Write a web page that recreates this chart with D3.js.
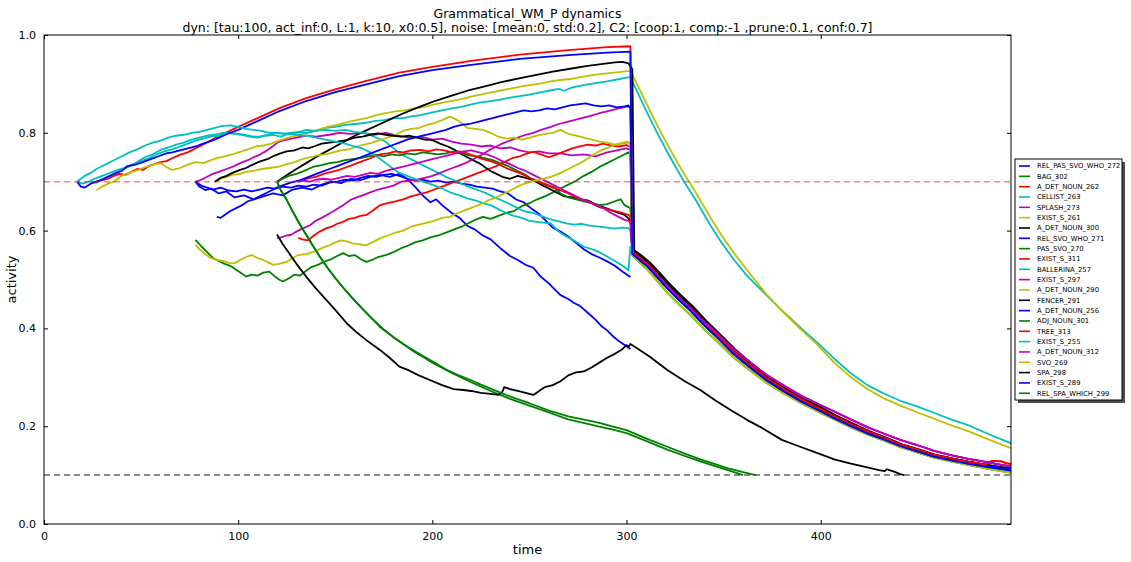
<!DOCTYPE html>
<html><head><meta charset="utf-8">
<script src="https://cdn.jsdelivr.net/npm/d3@7"></script>
<style>
html,body{margin:0;padding:0;background:#fff;}
svg{display:block;font-family:"DejaVu Sans",sans-serif;}
</style></head><body>
<svg id="chart" width="1131" height="562"></svg>
<script>
// ---------------- data ----------------
const titleLines = ["Grammatical_WM_P dynamics",
  "dyn: [tau:100, act_inf:0, L:1, k:10, x0:0.5], noise: [mean:0, std:0.2], C2: [coop:1, comp:-1 ,prune:0.1, conf:0.7]"];
const xTicks = [0, 100, 200, 300, 400];
const yTicks = [0.0, 0.2, 0.4, 0.6, 0.8, 1.0];
const timeMax = 498;
const confThreshold = 0.7;
const pruneThreshold = 0.1;

// shared decay tails after the reset at t≈302
const tailHi = [[303,0.560],[307,0.548],[311,0.535],[316,0.514],[321,0.492],[327,0.468],[333,0.446],[340,0.416],[347,0.389],[355,0.357],[363,0.330],[372,0.302],[381,0.279],[390,0.257],[399,0.239],[407,0.222],[416,0.205],[424,0.190],[433,0.176],[441,0.163],[450,0.152],[458,0.142],[467,0.134],[476,0.127],[485,0.121],[493,0.116],[498,0.113]];
const tailBase = [[303,0.556],[307,0.543],[311,0.530],[316,0.508],[321,0.486],[327,0.462],[333,0.440],[340,0.410],[347,0.384],[355,0.352],[363,0.326],[372,0.298],[381,0.275],[390,0.254],[399,0.236],[407,0.220],[416,0.203],[424,0.189],[433,0.175],[441,0.162],[450,0.151],[458,0.141],[467,0.133],[476,0.126],[485,0.120],[493,0.115],[498,0.112]];
const tailMid = [[303,0.552],[307,0.539],[311,0.526],[316,0.504],[321,0.482],[327,0.458],[333,0.436],[340,0.406],[347,0.380],[355,0.348],[363,0.322],[372,0.294],[381,0.271],[390,0.250],[399,0.232],[407,0.216],[416,0.199],[424,0.185],[433,0.172],[441,0.159],[450,0.148],[458,0.138],[467,0.130],[476,0.123],[485,0.117],[493,0.112],[498,0.109]];
const tailLow = [[303,0.550],[307,0.534],[311,0.519],[316,0.496],[321,0.473],[327,0.449],[333,0.427],[340,0.398],[347,0.372],[355,0.341],[363,0.316],[372,0.289],[381,0.267],[390,0.247],[399,0.229],[407,0.214],[416,0.197],[424,0.183],[433,0.170],[441,0.157],[450,0.146],[458,0.136],[467,0.128],[476,0.121],[485,0.114],[493,0.108],[498,0.105]];
const tailMag = [[303,0.553],[307,0.540],[311,0.528],[316,0.507],[321,0.486],[327,0.463],[333,0.442],[340,0.414],[347,0.389],[355,0.358],[363,0.333],[372,0.305],[381,0.283],[390,0.262],[399,0.245],[407,0.230],[416,0.213],[424,0.198],[433,0.184],[441,0.172],[450,0.161],[458,0.150],[467,0.141],[476,0.133],[485,0.127],[493,0.121],[498,0.118]];
const tailRed = [[303,0.557],[307,0.544],[311,0.531],[316,0.509],[321,0.487],[327,0.463],[333,0.441],[340,0.411],[347,0.385],[355,0.353],[363,0.327],[372,0.299],[381,0.276],[390,0.255],[399,0.237],[407,0.221],[416,0.204],[424,0.190],[433,0.176],[441,0.163],[450,0.152],[458,0.142],[467,0.134],[476,0.127],[481,0.124],[485,0.121],[488,0.129],[493,0.128],[496,0.124],[498,0.123]];

const REL_PAS_SVO_WHO_272 = [[78,0.700],[80,0.690],[83,0.683],[86,0.686],[90,0.676],[94,0.680],[98,0.668],[103,0.672],[108,0.664],[113,0.670],[118,0.676],[123,0.672],[128,0.684],[133,0.688],[138,0.684],[143,0.694],[148,0.700],[153,0.697],[158,0.706],[163,0.703],[168,0.710],[173,0.714],[178,0.710],[183,0.716],[187,0.706],[191,0.690],[195,0.672],[199,0.658],[202,0.664],[205,0.652],[210,0.636],[214,0.626],[218,0.610],[222,0.602],[226,0.590],[230,0.582],[235,0.564],[240,0.548],[244,0.540],[248,0.530],[252,0.524],[256,0.505],[260,0.492],[263,0.480],[266,0.468],[270,0.460],[273,0.452],[276,0.446],[280,0.432],[284,0.418],[287,0.405],[290,0.396],[293,0.384],[296,0.374],[299,0.366],[302,0.358]];
const BAG_302 = [[120,0.700],[122,0.682],[125,0.663],[128,0.640],[131,0.618],[134,0.598],[138,0.572],[142,0.547],[146,0.524],[150,0.503],[155,0.479],[160,0.457],[165,0.436],[170,0.416],[175,0.398],[180,0.382],[185,0.368],[190,0.354],[195,0.342],[200,0.330],[210,0.309],[220,0.290],[230,0.272],[240,0.256],[250,0.242],[260,0.228],[270,0.214],[280,0.205],[286,0.199],[293,0.193],[300,0.186],[310,0.170],[321,0.152],[330,0.139],[338,0.128],[346,0.118],[353,0.109],[360,0.100]];
const A_DET_NOUN_262 = [[27,0.700],[30,0.703],[33,0.706],[36,0.712],[39,0.716],[42,0.714],[45,0.720],[48,0.726],[51,0.724],[54,0.732],[57,0.736],[60,0.740],[63,0.742],[66,0.748],[70,0.755],[74,0.760],[77,0.766],[82,0.776],[88,0.789],[94,0.801],[100,0.812],[110,0.830],[121,0.850],[135,0.871],[150,0.889],[165,0.905],[183,0.923],[200,0.935],[220,0.947],[245,0.960],[270,0.969],[290,0.975],[302,0.977]].concat(tailRed);
const CELLIST_263 = [[24,0.700],[27,0.698],[30,0.706],[34,0.712],[38,0.720],[42,0.728],[46,0.735],[50,0.742],[54,0.748],[58,0.756],[62,0.762],[66,0.766],[70,0.772],[74,0.778],[78,0.784],[82,0.788],[86,0.792],[90,0.794],[94,0.800],[98,0.798],[102,0.796],[106,0.792],[110,0.790],[114,0.794],[118,0.796],[122,0.792],[126,0.798],[130,0.800],[135,0.806],[140,0.804],[145,0.810],[150,0.812],[155,0.816],[160,0.818],[165,0.820],[170,0.824],[175,0.826],[180,0.830],[185,0.830],[190,0.834],[194,0.836],[200,0.842],[205,0.846],[210,0.850],[215,0.853],[220,0.858],[225,0.862],[230,0.865],[235,0.868],[240,0.872],[245,0.875],[250,0.878],[255,0.882],[260,0.886],[265,0.890],[268,0.886],[272,0.893],[276,0.896],[280,0.899],[285,0.902],[290,0.905],[295,0.909],[300,0.913],[302,0.914],[306,0.880],[310,0.846],[315,0.806],[320,0.768],[325,0.732],[330,0.698],[336,0.660],[343,0.612],[349,0.575],[355,0.542],[362,0.508],[372,0.468],[380,0.437],[390,0.400],[398,0.372],[407,0.338],[415,0.310],[424,0.284],[432,0.268],[441,0.252],[450,0.240],[458,0.228],[467,0.214],[476,0.202],[487,0.183],[498,0.165]];
const SPLASH_273 = [[78,0.700],[81,0.704],[84,0.710],[87,0.716],[90,0.720],[94,0.726],[98,0.732],[101,0.738],[105,0.744],[108,0.750],[111,0.755],[114,0.762],[117,0.770],[121,0.782],[125,0.786],[130,0.790],[135,0.794],[140,0.792],[147,0.796],[152,0.800],[158,0.798],[164,0.800],[170,0.796],[176,0.800],[182,0.794],[188,0.790],[194,0.792],[200,0.786],[205,0.788],[210,0.782],[215,0.778],[220,0.776],[225,0.772],[230,0.774],[235,0.768],[240,0.770],[245,0.764],[250,0.760],[255,0.762],[260,0.758],[266,0.758],[272,0.754],[278,0.756],[284,0.752],[290,0.760],[295,0.764],[300,0.768],[302,0.765]].concat(tailMag);
const EXIST_S_261 = [[27,0.683],[30,0.690],[33,0.696],[36,0.700],[40,0.712],[43,0.717],[47,0.722],[51,0.728],[55,0.734],[60,0.738],[63,0.730],[66,0.724],[70,0.728],[74,0.735],[78,0.740],[82,0.738],[86,0.744],[89,0.748],[93,0.752],[97,0.756],[101,0.761],[105,0.766],[109,0.772],[113,0.774],[117,0.778],[121,0.784],[126,0.790],[131,0.795],[136,0.800],[141,0.806],[146,0.812],[151,0.816],[156,0.822],[161,0.826],[166,0.830],[171,0.836],[176,0.840],[181,0.844],[186,0.846],[191,0.850],[196,0.853],[201,0.858],[206,0.862],[211,0.866],[216,0.870],[221,0.875],[226,0.879],[231,0.883],[236,0.887],[241,0.891],[246,0.895],[251,0.898],[256,0.901],[261,0.905],[266,0.908],[271,0.910],[276,0.914],[281,0.917],[286,0.920],[291,0.922],[296,0.924],[300,0.926],[302,0.926],[306,0.895],[310,0.862],[315,0.822],[320,0.784],[325,0.748],[330,0.714],[336,0.676],[343,0.628],[349,0.590],[355,0.556],[362,0.520],[372,0.470],[380,0.436],[390,0.397],[398,0.368],[407,0.330],[415,0.302],[424,0.276],[432,0.258],[441,0.242],[450,0.228],[458,0.216],[467,0.202],[476,0.190],[487,0.172],[498,0.155]];
const A_DET_NOUN_300 = [[120,0.700],[123,0.708],[126,0.716],[130,0.726],[135,0.738],[140,0.750],[145,0.761],[150,0.772],[155,0.783],[160,0.794],[166,0.805],[172,0.816],[178,0.827],[184,0.838],[190,0.848],[196,0.857],[202,0.866],[210,0.876],[218,0.886],[226,0.894],[235,0.903],[244,0.911],[253,0.918],[262,0.925],[271,0.931],[280,0.937],[288,0.941],[294,0.944],[298,0.945],[301,0.942],[302,0.936],[303,0.930]].concat(tailHi.map(d => [d[0] + 1, d[1]]));
const REL_SVO_WHO_271 = [[78,0.700],[81,0.692],[84,0.688],[87,0.684],[91,0.688],[95,0.682],[99,0.680],[103,0.684],[107,0.680],[111,0.684],[115,0.688],[119,0.686],[123,0.690],[127,0.688],[131,0.692],[135,0.690],[139,0.694],[143,0.692],[147,0.698],[151,0.700],[155,0.704],[159,0.702],[163,0.708],[167,0.712],[171,0.710],[175,0.714],[179,0.716],[183,0.712],[187,0.706],[191,0.702],[195,0.704],[199,0.700],[203,0.702],[207,0.698],[211,0.700],[215,0.696],[219,0.694],[223,0.690],[227,0.688],[231,0.686],[235,0.680],[239,0.676],[243,0.664],[247,0.658],[251,0.645],[255,0.634],[259,0.618],[262,0.606],[266,0.598],[270,0.588],[274,0.575],[278,0.562],[282,0.552],[286,0.545],[290,0.537],[294,0.528],[298,0.516],[302,0.505]];
const PAS_SVO_270 = [[78,0.581],[81,0.568],[84,0.556],[87,0.544],[90,0.538],[93,0.532],[96,0.528],[99,0.520],[102,0.512],[104,0.506],[107,0.510],[110,0.508],[113,0.514],[116,0.516],[119,0.506],[121,0.500],[123,0.496],[126,0.502],[129,0.510],[132,0.508],[135,0.518],[138,0.526],[141,0.530],[144,0.536],[147,0.540],[150,0.546],[154,0.554],[157,0.548],[160,0.550],[163,0.542],[166,0.536],[169,0.540],[172,0.546],[176,0.550],[180,0.556],[184,0.564],[188,0.570],[191,0.576],[195,0.580],[199,0.586],[203,0.590],[207,0.596],[211,0.602],[215,0.608],[219,0.616],[222,0.622],[226,0.628],[230,0.624],[234,0.630],[238,0.636],[242,0.640],[246,0.650],[250,0.656],[254,0.664],[258,0.670],[262,0.678],[266,0.686],[270,0.694],[274,0.702],[278,0.712],[282,0.720],[286,0.730],[290,0.738],[294,0.746],[298,0.754],[301,0.760],[302,0.755]].concat(tailMid);
const EXIST_S_311 = [[131,0.585],[133,0.582],[136,0.580],[139,0.590],[142,0.598],[145,0.604],[148,0.608],[151,0.614],[154,0.618],[157,0.624],[160,0.626],[163,0.630],[166,0.632],[169,0.640],[173,0.652],[177,0.656],[181,0.660],[185,0.664],[189,0.670],[193,0.674],[197,0.678],[201,0.684],[205,0.690],[209,0.696],[213,0.702],[217,0.708],[221,0.714],[225,0.720],[229,0.726],[233,0.732],[237,0.740],[241,0.748],[245,0.752],[249,0.758],[252,0.761],[256,0.756],[260,0.750],[264,0.756],[268,0.762],[272,0.768],[276,0.772],[280,0.776],[284,0.774],[288,0.778],[292,0.774],[296,0.772],[300,0.775],[302,0.770]].concat(tailBase);
const BALLERINA_257 = [[17,0.700],[20,0.696],[23,0.700],[26,0.706],[30,0.712],[34,0.718],[38,0.724],[43,0.730],[47,0.738],[52,0.750],[56,0.756],[60,0.765],[64,0.770],[68,0.776],[72,0.780],[76,0.786],[80,0.790],[84,0.794],[88,0.796],[92,0.800],[96,0.800],[100,0.798],[104,0.795],[108,0.792],[111,0.792],[115,0.796],[119,0.800],[123,0.798],[127,0.800],[131,0.802],[135,0.800],[140,0.804],[145,0.806],[150,0.804],[155,0.806],[160,0.802],[165,0.800],[170,0.792],[175,0.784],[179,0.772],[183,0.758],[187,0.750],[191,0.742],[195,0.734],[200,0.724],[204,0.716],[208,0.708],[212,0.702],[216,0.694],[220,0.688],[224,0.682],[228,0.676],[232,0.668],[235,0.663],[239,0.656],[243,0.648],[247,0.640],[252,0.636],[256,0.630],[260,0.624],[264,0.620],[269,0.615],[273,0.612],[277,0.614],[281,0.610],[286,0.608],[290,0.606],[294,0.604],[298,0.606],[301,0.605],[302,0.600]].concat(tailLow);
const EXIST_S_297 = [[120,0.584],[122,0.586],[125,0.590],[127,0.591],[130,0.598],[133,0.604],[137,0.611],[140,0.620],[143,0.626],[147,0.635],[150,0.642],[154,0.652],[158,0.663],[161,0.668],[164,0.672],[168,0.678],[172,0.684],[176,0.688],[180,0.692],[184,0.700],[188,0.702],[192,0.704],[196,0.708],[200,0.712],[204,0.718],[209,0.726],[213,0.732],[217,0.738],[221,0.746],[225,0.754],[229,0.764],[233,0.772],[236,0.778],[240,0.784],[244,0.790],[248,0.796],[252,0.800],[256,0.806],[261,0.812],[265,0.818],[269,0.822],[273,0.826],[277,0.830],[281,0.834],[286,0.840],[290,0.844],[294,0.848],[298,0.852],[301,0.854],[302,0.850]].concat(tailMag);
const A_DET_NOUN_290 = [[88,0.700],[91,0.706],[94,0.710],[97,0.714],[101,0.716],[104,0.720],[108,0.722],[112,0.726],[116,0.728],[121,0.731],[125,0.736],[129,0.740],[133,0.746],[137,0.750],[141,0.754],[145,0.756],[149,0.760],[153,0.764],[157,0.766],[161,0.772],[165,0.776],[169,0.780],[173,0.785],[177,0.790],[181,0.796],[185,0.804],[189,0.808],[193,0.810],[197,0.816],[201,0.820],[205,0.826],[209,0.833],[212,0.828],[215,0.820],[218,0.810],[222,0.808],[226,0.806],[230,0.800],[234,0.792],[238,0.788],[242,0.790],[246,0.786],[250,0.790],[254,0.794],[258,0.798],[262,0.800],[266,0.806],[270,0.798],[274,0.794],[278,0.790],[282,0.786],[286,0.782],[290,0.780],[294,0.776],[298,0.778],[301,0.780],[302,0.775]].concat(tailLow);
const FENCER_291 = [[88,0.700],[91,0.708],[94,0.712],[97,0.718],[101,0.724],[104,0.728],[107,0.734],[111,0.741],[115,0.746],[118,0.752],[121,0.757],[125,0.762],[129,0.764],[133,0.770],[136,0.768],[139,0.772],[143,0.778],[147,0.780],[151,0.782],[156,0.785],[160,0.790],[164,0.792],[168,0.796],[172,0.799],[176,0.796],[180,0.794],[184,0.792],[188,0.794],[192,0.790],[196,0.786],[200,0.785],[204,0.778],[208,0.772],[212,0.764],[215,0.756],[218,0.750],[221,0.744],[224,0.738],[227,0.730],[230,0.722],[233,0.716],[236,0.710],[240,0.706],[244,0.712],[248,0.708],[252,0.703],[256,0.694],[260,0.686],[264,0.678],[268,0.670],[272,0.668],[276,0.664],[280,0.662],[284,0.654],[288,0.648],[292,0.642],[296,0.636],[299,0.632],[301,0.625],[302,0.620]].concat(tailHi);
const A_DET_NOUN_256 = [[17,0.700],[19,0.690],[21,0.688],[24,0.696],[27,0.700],[30,0.704],[33,0.710],[36,0.716],[40,0.722],[43,0.732],[47,0.735],[51,0.740],[55,0.746],[59,0.752],[63,0.758],[66,0.760],[70,0.764],[74,0.768],[78,0.772],[82,0.778],[88,0.786],[94,0.797],[100,0.806],[110,0.824],[121,0.844],[135,0.865],[150,0.883],[165,0.898],[183,0.916],[200,0.928],[220,0.939],[245,0.951],[270,0.959],[290,0.964],[302,0.966]].concat(tailBase);
const ADJ_NOUN_301 = [[120,0.700],[123,0.706],[126,0.712],[130,0.716],[134,0.722],[139,0.731],[143,0.734],[147,0.738],[151,0.740],[155,0.744],[159,0.746],[163,0.748],[167,0.752],[171,0.755],[175,0.752],[179,0.756],[183,0.754],[187,0.758],[191,0.756],[195,0.760],[199,0.758],[203,0.756],[207,0.758],[211,0.762],[215,0.758],[219,0.754],[223,0.752],[227,0.748],[231,0.744],[235,0.738],[239,0.732],[243,0.724],[247,0.716],[251,0.706],[255,0.700],[259,0.694],[263,0.688],[266,0.676],[270,0.668],[274,0.664],[278,0.660],[282,0.656],[286,0.652],[290,0.654],[294,0.660],[297,0.664],[299,0.652],[301,0.648],[302,0.645]].concat(tailMid);
const TREE_313 = [[131,0.700],[134,0.704],[137,0.708],[140,0.710],[144,0.716],[148,0.720],[152,0.724],[156,0.730],[160,0.736],[164,0.742],[168,0.748],[173,0.756],[177,0.758],[181,0.762],[185,0.760],[189,0.764],[194,0.765],[198,0.762],[202,0.766],[206,0.764],[210,0.760],[214,0.762],[218,0.758],[222,0.752],[226,0.746],[230,0.742],[234,0.736],[238,0.728],[242,0.722],[246,0.716],[250,0.708],[254,0.702],[258,0.694],[262,0.688],[266,0.682],[270,0.676],[274,0.668],[278,0.662],[282,0.656],[286,0.648],[290,0.644],[294,0.640],[298,0.636],[301,0.632],[302,0.628]].concat(tailRed);
const EXIST_S_255 = [[17,0.700],[19,0.706],[21,0.712],[24,0.718],[27,0.726],[30,0.732],[33,0.738],[36,0.744],[40,0.752],[44,0.760],[48,0.766],[52,0.774],[56,0.780],[60,0.784],[64,0.790],[68,0.794],[72,0.796],[76,0.800],[80,0.802],[84,0.806],[88,0.810],[92,0.814],[96,0.815],[100,0.812],[104,0.808],[108,0.806],[112,0.804],[116,0.800],[121,0.800],[125,0.798],[130,0.796],[135,0.794],[140,0.790],[145,0.786],[150,0.782],[155,0.778],[160,0.772],[164,0.768],[168,0.760],[172,0.750],[176,0.738],[180,0.726],[183,0.718],[187,0.712],[191,0.706],[195,0.700],[200,0.694],[205,0.686],[210,0.677],[214,0.672],[218,0.666],[222,0.662],[226,0.656],[230,0.652],[234,0.644],[238,0.636],[242,0.630],[246,0.626],[250,0.620],[254,0.618],[258,0.616],[261,0.615],[265,0.598],[269,0.588],[273,0.580],[278,0.567],[282,0.562],[286,0.556],[290,0.547],[294,0.538],[298,0.528],[301,0.519],[302,0.567]].concat(tailLow);
const A_DET_NOUN_312 = [[131,0.700],[134,0.702],[137,0.700],[140,0.704],[144,0.706],[148,0.704],[152,0.708],[156,0.712],[160,0.710],[164,0.714],[168,0.718],[172,0.716],[176,0.722],[180,0.726],[184,0.730],[188,0.734],[192,0.738],[196,0.742],[200,0.746],[204,0.750],[208,0.754],[212,0.758],[216,0.762],[220,0.764],[224,0.760],[228,0.756],[232,0.750],[236,0.742],[240,0.736],[244,0.728],[248,0.722],[252,0.714],[256,0.706],[260,0.698],[264,0.690],[268,0.682],[272,0.674],[276,0.666],[280,0.660],[284,0.652],[288,0.646],[292,0.636],[296,0.628],[299,0.622],[301,0.620],[302,0.616]].concat(tailMag);
const SVO_269 = [[78,0.571],[80,0.562],[83,0.552],[86,0.544],[89,0.540],[92,0.538],[95,0.534],[98,0.533],[101,0.540],[104,0.546],[107,0.550],[110,0.544],[113,0.540],[116,0.534],[118,0.530],[121,0.532],[125,0.536],[128,0.544],[131,0.550],[135,0.552],[139,0.557],[143,0.564],[147,0.570],[150,0.576],[153,0.580],[156,0.578],[159,0.574],[163,0.572],[166,0.570],[169,0.576],[173,0.584],[177,0.590],[181,0.596],[185,0.600],[189,0.608],[193,0.612],[197,0.616],[201,0.620],[205,0.626],[209,0.628],[213,0.636],[217,0.642],[221,0.648],[225,0.654],[229,0.662],[233,0.668],[237,0.676],[241,0.684],[245,0.692],[249,0.698],[253,0.702],[257,0.706],[261,0.710],[265,0.716],[269,0.724],[273,0.732],[277,0.740],[281,0.750],[285,0.760],[288,0.766],[292,0.772],[296,0.778],[300,0.782],[302,0.780]].concat(tailLow);
const SPA_298 = [[120,0.592],[123,0.572],[126,0.555],[130,0.532],[135,0.506],[140,0.482],[145,0.460],[150,0.438],[156,0.410],[161,0.392],[166,0.376],[173,0.356],[178,0.340],[183,0.322],[188,0.314],[193,0.304],[199,0.294],[205,0.284],[211,0.276],[216,0.274],[220,0.272],[225,0.268],[230,0.266],[234,0.264],[236,0.270],[237,0.280],[240,0.276],[244,0.272],[248,0.268],[252,0.264],[255,0.272],[258,0.280],[262,0.284],[266,0.292],[270,0.304],[274,0.310],[278,0.312],[282,0.320],[286,0.330],[290,0.340],[294,0.348],[298,0.358],[300,0.366],[301,0.362],[302,0.368],[306,0.358],[312,0.342],[321,0.315],[330,0.292],[338,0.274],[346,0.252],[354,0.232],[362,0.213],[370,0.196],[380,0.172],[388,0.160],[397,0.147],[407,0.132],[415,0.124],[424,0.116],[430,0.110],[433,0.108],[434,0.112],[437,0.108],[441,0.102],[443,0.100]];
const EXIST_S_289 = [[89,0.628],[91,0.626],[93,0.632],[96,0.640],[99,0.646],[102,0.652],[105,0.660],[108,0.664],[111,0.670],[114,0.676],[117,0.682],[121,0.690],[124,0.694],[127,0.698],[131,0.702],[135,0.708],[139,0.714],[143,0.720],[147,0.726],[151,0.732],[155,0.738],[159,0.744],[163,0.750],[167,0.756],[171,0.762],[175,0.768],[179,0.774],[183,0.780],[187,0.786],[191,0.790],[195,0.794],[199,0.798],[203,0.802],[207,0.806],[211,0.812],[215,0.816],[219,0.818],[223,0.822],[227,0.826],[231,0.830],[235,0.834],[239,0.838],[243,0.842],[247,0.846],[251,0.844],[255,0.846],[259,0.850],[263,0.848],[267,0.852],[271,0.856],[275,0.858],[279,0.860],[283,0.856],[287,0.854],[291,0.856],[295,0.852],[299,0.854],[301,0.856],[302,0.850]].concat(tailMid);
const REL_SPA_WHICH_299 = [[120,0.700],[122,0.682],[125,0.663],[128,0.640],[131,0.618],[134,0.598],[138,0.572],[142,0.547],[146,0.524],[150,0.503],[155,0.479],[160,0.457],[165,0.436],[170,0.416],[173,0.403],[180,0.382],[185,0.368],[190,0.356],[195,0.344],[200,0.333],[207,0.316],[213,0.305],[220,0.294],[225,0.285],[230,0.277],[236,0.267],[242,0.258],[250,0.247],[260,0.232],[270,0.220],[280,0.212],[286,0.207],[293,0.199],[300,0.192],[310,0.175],[321,0.158],[330,0.144],[338,0.132],[346,0.122],[353,0.113],[360,0.106],[366.5,0.100]];

const seriesNames = ["REL_PAS_SVO_WHO_272","BAG_302","A_DET_NOUN_262","CELLIST_263","SPLASH_273","EXIST_S_261","A_DET_NOUN_300","REL_SVO_WHO_271","PAS_SVO_270","EXIST_S_311","BALLERINA_257","EXIST_S_297","A_DET_NOUN_290","FENCER_291","A_DET_NOUN_256","ADJ_NOUN_301","TREE_313","EXIST_S_255","A_DET_NOUN_312","SVO_269","SPA_298","EXIST_S_289","REL_SPA_WHICH_299"];
const seriesValues = [REL_PAS_SVO_WHO_272, BAG_302, A_DET_NOUN_262, CELLIST_263, SPLASH_273, EXIST_S_261, A_DET_NOUN_300, REL_SVO_WHO_271, PAS_SVO_270, EXIST_S_311, BALLERINA_257, EXIST_S_297, A_DET_NOUN_290, FENCER_291, A_DET_NOUN_256, ADJ_NOUN_301, TREE_313, EXIST_S_255, A_DET_NOUN_312, SVO_269, SPA_298, EXIST_S_289, REL_SPA_WHICH_299];

// ---------------- drawing ----------------
const palette = ["#0000ff", "#008000", "#ff0000", "#00bfbf", "#bf00bf", "#bfbf00", "#000000"];
const margin = {left: 44, right: 120, top: 35, bottom: 38};
const W = 1131, H = 562;
const svg = d3.select("#chart");

const x = d3.scaleLinear().domain([0, timeMax]).range([margin.left, W - margin.right]);
const y = d3.scaleLinear().domain([0, 1]).range([H - margin.bottom, margin.top]);

const plot = svg.append("g");
plot.append("clipPath").attr("id", "clip").append("rect")
  .attr("x", x.range()[0]).attr("y", y.range()[1])
  .attr("width", x.range()[1] - x.range()[0]).attr("height", y.range()[0] - y.range()[1]);

const line = d3.line().x(d => x(d[0])).y(d => y(d[1]));
const lines = plot.append("g").attr("clip-path", "url(#clip)");
seriesValues.forEach((pts, i) => {
  lines.append("path").datum(pts)
    .attr("d", line)
    .attr("fill", "none")
    .attr("stroke", palette[i % palette.length])
    .attr("stroke-width", 1.8)
    .attr("stroke-linejoin", "round");
});

// threshold lines
lines.append("line")
  .attr("x1", x.range()[0]).attr("x2", x.range()[1])
  .attr("y1", y(confThreshold)).attr("y2", y(confThreshold))
  .attr("stroke", "#ff0000").attr("stroke-opacity", 0.5)
  .attr("stroke-width", 1.5).attr("stroke-dasharray", "6,4");
lines.append("line")
  .attr("x1", x.range()[0]).attr("x2", x.range()[1])
  .attr("y1", y(pruneThreshold)).attr("y2", y(pruneThreshold))
  .attr("stroke", "#000000").attr("stroke-opacity", 0.6)
  .attr("stroke-width", 1.5).attr("stroke-dasharray", "6,4");

// axes: ticks point inward on all four sides
const axisStyle = g => {
  g.select(".domain").remove();
  g.selectAll(".tick line").attr("stroke", "#000");
  g.selectAll(".tick text").attr("font-size", 11).attr("font-family", "DejaVu Sans").attr("fill", "#000");
};
svg.append("g").attr("transform", `translate(0,${y(0)})`)
  .call(d3.axisBottom(x).tickValues(xTicks).tickFormat(d3.format("d")).tickSizeInner(-4).tickPadding(8))
  .call(axisStyle);
svg.append("g").attr("transform", `translate(0,${y(1)})`)
  .call(d3.axisTop(x).tickValues(xTicks).tickSizeInner(-4).tickFormat(""))
  .call(axisStyle);
svg.append("g").attr("transform", `translate(${x(0)},0)`)
  .call(d3.axisLeft(y).tickValues(yTicks).tickFormat(d3.format(".1f")).tickSizeInner(-4).tickPadding(8))
  .call(axisStyle);
svg.append("g").attr("transform", `translate(${x(timeMax)},0)`)
  .call(d3.axisRight(y).tickValues(yTicks).tickSizeInner(-4).tickFormat(""))
  .call(axisStyle);

svg.append("rect")
  .attr("x", x.range()[0]).attr("y", y.range()[1])
  .attr("width", x.range()[1] - x.range()[0]).attr("height", y.range()[0] - y.range()[1])
  .attr("fill", "none").attr("stroke", "#000").attr("stroke-width", 1);

// titles and labels
const cx = (x.range()[0] + x.range()[1]) / 2;
svg.append("text").attr("x", cx).attr("y", 17.5).attr("text-anchor", "middle")
  .attr("font-size", 12.5).text(titleLines[0]);
svg.append("text").attr("x", cx).attr("y", 32).attr("text-anchor", "middle")
  .attr("font-size", 12.5).text(titleLines[1]);
svg.append("text").attr("x", cx).attr("y", 554).attr("text-anchor", "middle")
  .attr("font-size", 13).text("time");
svg.append("text").attr("transform", `translate(16,${(y(0) + y(1)) / 2}) rotate(-90)`)
  .attr("text-anchor", "middle").attr("font-size", 13).text("activity");

// legend with drop shadow
const lg = {x: 1015, y: 159, w: 107, h: 241, row: 10.33};
svg.append("rect").attr("x", lg.x + 3).attr("y", lg.y + 3).attr("width", lg.w).attr("height", lg.h)
  .attr("fill", "#4d4d4d");
svg.append("rect").attr("x", lg.x).attr("y", lg.y).attr("width", lg.w).attr("height", lg.h)
  .attr("fill", "#fff").attr("stroke", "#000").attr("stroke-width", 1);
const items = svg.append("g").selectAll("g").data(seriesNames).join("g")
  .attr("transform", (d, i) => `translate(${lg.x},${lg.y + 7 + i * lg.row})`);
items.append("line").attr("x1", 4).attr("x2", 15).attr("y1", 0).attr("y2", 0)
  .attr("stroke", (d, i) => palette[i % palette.length]).attr("stroke-width", 1.6);
items.append("text").attr("x", 22).attr("y", 2.4).attr("font-size", 6.8).text(d => d);
</script>
</body></html>
